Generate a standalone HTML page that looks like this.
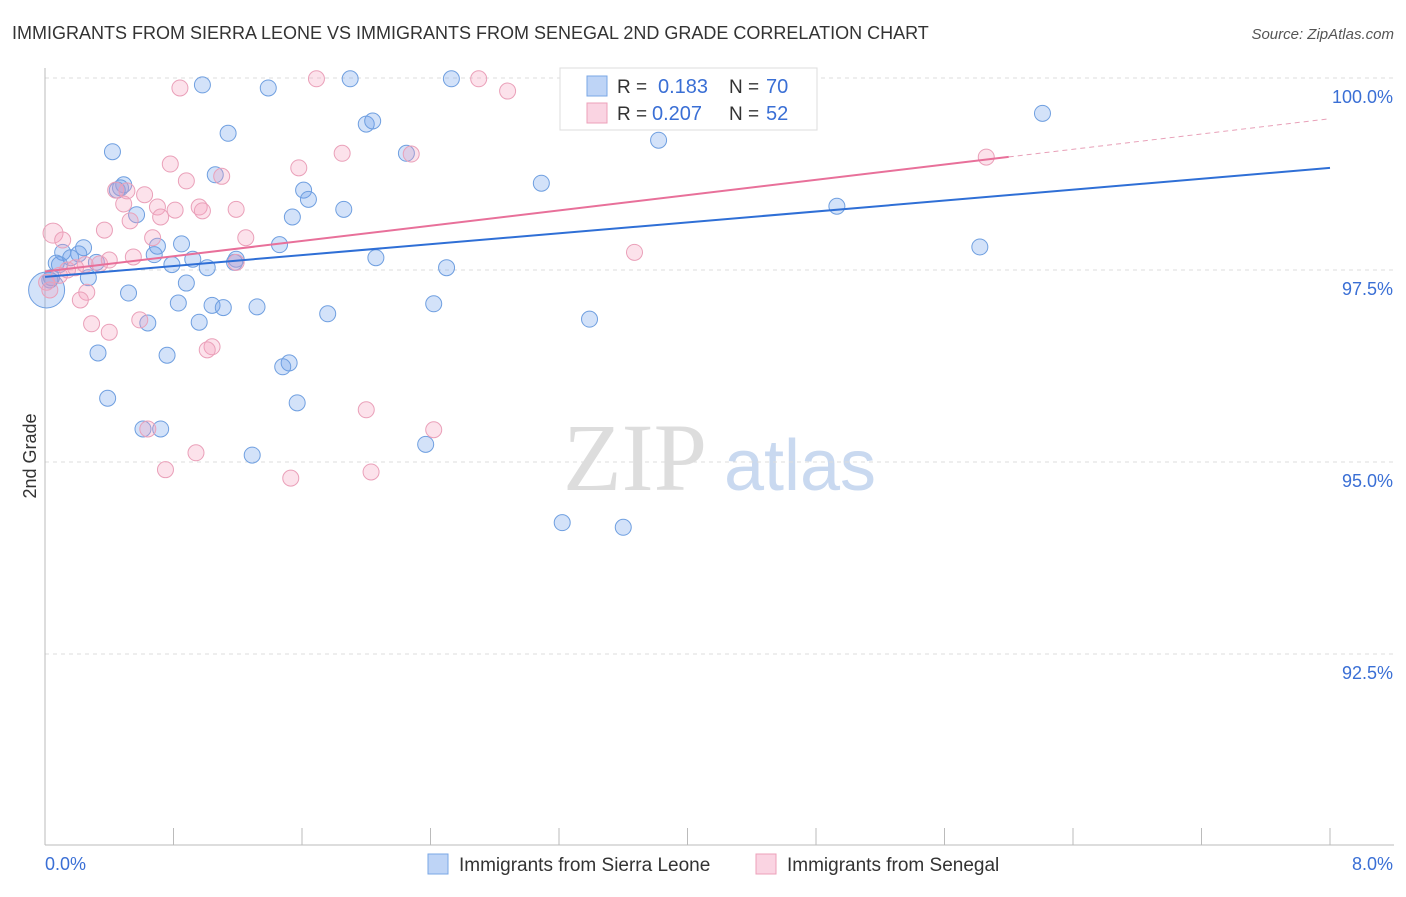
<!DOCTYPE html>
<html><head><meta charset="utf-8"><style>
body{margin:0;background:#fff;font-family:"Liberation Sans",sans-serif;}
svg text{font-family:"Liberation Sans",sans-serif;}
</style></head><body>
<svg id="chart" width="1406" height="892" viewBox="0 0 1406 892">
<text x="12" y="39" font-size="18" fill="#333">IMMIGRANTS FROM SIERRA LEONE VS IMMIGRANTS FROM SENEGAL 2ND GRADE CORRELATION CHART</text>
<text x="1394" y="39" font-size="15" fill="#555" text-anchor="end" font-style="italic">Source: ZipAtlas.com</text>
<text x="36" y="456" font-size="18" fill="#333" text-anchor="middle" transform="rotate(-90 36 456)">2nd Grade</text>
<g><text x="635" y="490" font-size="96" fill="#ddd" text-anchor="middle" font-family="Liberation Serif" style="font-family:'Liberation Serif',serif">ZIP</text><text x="800" y="490" font-size="72" fill="#c9d9f0" text-anchor="middle">atlas</text></g>
<g id="grid"></g><g id="axes"></g><g id="pts"></g><g id="lines"></g>
<g>
<rect x="560" y="68" width="257" height="62" fill="#fff" stroke="#ddd"/>
<rect x="587" y="76" width="20" height="20" fill="rgba(110,160,235,0.45)" stroke="#7aa7e6"/>
<text x="617" y="93" font-size="19" fill="#333">R = </text><text x="658" y="93" font-size="20" fill="#3a6fd5">0.183</text>
<text x="729" y="93" font-size="19" fill="#333">N = </text><text x="766" y="93" font-size="20" fill="#3a6fd5">70</text>
<rect x="587" y="103" width="20" height="20" fill="rgba(245,160,190,0.45)" stroke="#eca0ba"/>
<text x="617" y="120" font-size="19" fill="#333">R = </text><text x="652" y="120" font-size="20" fill="#3a6fd5">0.207</text>
<text x="729" y="120" font-size="19" fill="#333">N = </text><text x="766" y="120" font-size="20" fill="#3a6fd5">52</text>
</g>
<g>
<rect x="428" y="854" width="20" height="20" fill="rgba(110,160,235,0.45)" stroke="#7aa7e6"/>
<text x="459" y="871" font-size="19" fill="#333">Immigrants from Sierra Leone</text>
<rect x="756" y="854" width="20" height="20" fill="rgba(245,160,190,0.45)" stroke="#eca0ba"/>
<text x="787" y="871" font-size="19" fill="#333">Immigrants from Senegal</text>
</g>
</svg>
<script>
const yTicks=[100,97.5,95,92.5];
const yTickLabels=["100.0%","97.5%","95.0%","92.5%"];
const xTicks=[0,0.8,1.6,2.4,3.2,4.0,4.8,5.6,6.4,7.2,8.0];
const blueX=[0.98,1.39,1.90,2.53,3.35,4.31,6.21,1.14,0.42,2.00,2.04,2.25,3.82,1.06,0.49,0.45,1.61,1.64,1.86,1.54,0.57,3.09,4.93,5.82,0.11,0.24,0.21,0.16,0.32,0.07,0.68,0.70,0.85,0.92,0.79,1.01,1.19,1.18,1.46,2.06,2.50,0.27,0.03,0.88,0.52,0.83,1.04,1.11,1.32,0.96,0.64,1.76,2.42,3.39,0.33,0.76,1.52,1.48,0.39,1.57,0.61,0.72,2.37,1.29,3.22,3.60,0.01,0.04,0.09,0.47];
const blueY=[99.91,99.87,99.99,99.99,99.99,99.99,99.54,99.28,99.04,99.40,99.44,99.02,99.19,98.74,98.61,98.54,98.54,98.42,98.29,98.19,98.22,98.63,98.33,97.80,97.73,97.79,97.71,97.66,97.60,97.59,97.70,97.81,97.84,97.64,97.57,97.53,97.64,97.60,97.83,97.66,97.53,97.40,97.37,97.33,97.20,97.07,97.04,97.01,97.02,96.82,96.81,96.93,97.06,96.86,96.42,96.39,96.29,96.24,95.83,95.77,95.43,95.43,95.23,95.09,94.21,94.15,97.24,97.40,97.57,98.57];
const pinkX=[0.84,1.69,2.70,2.88,0.78,1.58,1.85,2.28,0.88,1.10,0.51,0.62,0.44,0.49,0.70,0.81,0.96,0.98,1.19,0.72,0.53,0.37,0.05,0.11,0.67,1.25,3.67,5.86,0.55,1.19,0.25,0.34,0.14,0.09,0.01,0.26,0.22,0.59,0.29,0.40,1.04,1.01,2.00,2.42,0.64,0.75,0.94,2.03,1.53,0.03,0.19,0.40];
const pinkY=[99.87,99.99,99.99,99.83,98.88,98.83,99.02,99.01,98.66,98.72,98.53,98.48,98.54,98.36,98.32,98.28,98.32,98.27,98.29,98.19,98.14,98.02,97.98,97.89,97.92,97.92,97.73,98.97,97.67,97.60,97.57,97.58,97.50,97.43,97.34,97.21,97.11,96.85,96.80,96.69,96.50,96.46,95.68,95.42,95.43,94.90,95.12,94.87,94.79,97.24,97.53,97.63];
const blueTrend=[97.41,98.83];
const pinkTrend=[97.48,99.47];
const pinkSolidEnd=6.0;
const sx=v=>45+v*(1330-45)/8;
const sy=v=>78+(100-v)*76.8;
const NS="http://www.w3.org/2000/svg";
function mk(tag,attrs,parent){const e=document.createElementNS(NS,tag);for(const k in attrs)e.setAttribute(k,attrs[k]);document.getElementById(parent).appendChild(e);return e;}
yTicks.forEach((t,i)=>{
 const g=mk('line',{x1:45,x2:1394,y1:sy(t),y2:sy(t),stroke:'#ddd','stroke-dasharray':'4 4'},'grid');
 
 
 const l=mk('text',{x:1393,y:sy(t)+25,'font-size':18,fill:'#3a6fd5','text-anchor':'end'},'grid');
 l.textContent=yTickLabels[i];
 
 
});
const ax=mk('line',{x1:45,x2:1394,y1:845,y2:845,stroke:'#bbb'},'axes');


const ay=mk('line',{x1:45,x2:45,y1:68,y2:845,stroke:'#bbb'},'axes');


xTicks.forEach(t=>{
 const k=mk('line',{x1:sx(t),x2:sx(t),y1:828,y2:845,stroke:'#bbb'},'axes');
 
 
});
const xl0=mk('text',{x:45,y:870,'font-size':18,fill:'#3a6fd5'},'axes');xl0.textContent='0.0%';


const xl1=mk('text',{x:1393,y:870,'font-size':18,fill:'#3a6fd5','text-anchor':'end'},'axes');xl1.textContent='8.0%';


blueX.forEach((x,i)=>{
 const c=mk('circle',{cx:sx(x),cy:sy(blueY[i]),r:i==66?18:8,fill:'rgba(110,160,235,0.3)',stroke:'#6f9fe0','stroke-width':1},'pts');
 
 
});
pinkX.forEach((x,i)=>{
 const c=mk('circle',{cx:sx(x),cy:sy(pinkY[i]),r:i==22?10:8,fill:'rgba(245,160,190,0.3)',stroke:'#eaa0b9','stroke-width':1},'pts');
 
 
});
const bl=mk('line',{x1:sx(0),y1:sy(blueTrend[0]),x2:sx(8),y2:sy(blueTrend[1]),stroke:'#2f6fd6','stroke-width':2},'lines');


const pm=pinkTrend[0]+(pinkTrend[1]-pinkTrend[0])*pinkSolidEnd/8;
const pl=mk('line',{x1:sx(0),y1:sy(pinkTrend[0]),x2:sx(pinkSolidEnd),y2:sy(pm),stroke:'#e8709a','stroke-width':2},'lines');


const pd=mk('line',{x1:sx(pinkSolidEnd),y1:sy(pm),x2:sx(8),y2:sy(pinkTrend[1]),stroke:'#e8a0b8','stroke-width':1,'stroke-dasharray':'5 4'},'lines');


</script>
</body></html>
